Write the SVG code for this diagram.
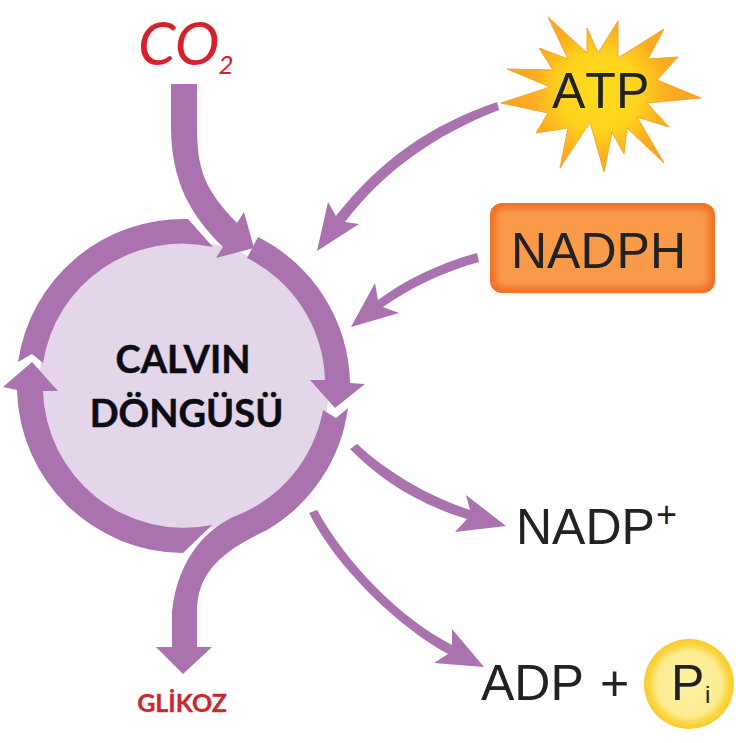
<svg xmlns="http://www.w3.org/2000/svg" width="736" height="743" viewBox="0 0 736 743">
<style>
.p{fill:#ab72b0}
.l{font-family:"Liberation Sans",Arial,sans-serif;font-size:50px;fill:#222}
.b{font-family:Lato,"Open Sans",sans-serif;font-weight:700;fill:#0c0c14;stroke:#0c0c14;stroke-width:.5px;font-size:38px;text-anchor:middle}
.c{font-family:Lato,"Open Sans",sans-serif;font-style:italic;fill:#d8202a}
</style>
<defs>
<radialGradient id="star" gradientUnits="userSpaceOnUse" cx="600" cy="92" r="95"><stop offset="0" stop-color="#ffdc1c"/><stop offset=".42" stop-color="#ffd21e"/><stop offset=".7" stop-color="#fbae20"/><stop offset="1" stop-color="#f8a124"/></radialGradient>
<radialGradient id="pi"><stop offset="0" stop-color="#fdf2a6"/><stop offset=".72" stop-color="#fdeb90"/><stop offset=".88" stop-color="#fbd640"/><stop offset="1" stop-color="#f9cb2c"/></radialGradient>
<filter id="glow" x="-10%" y="-10%" width="120%" height="120%"><feGaussianBlur stdDeviation="3"/></filter>
</defs>
<rect width="736" height="743" fill="#fff"/>
<g id="calvin">
<circle cx="184" cy="386" r="145" fill="#e4d6e9"/>
<text class="b" x="183" y="373">CALVIN</text>
<text class="b" x="186.500" y="427">DÖNGÜSÜ</text>
</g>
<g id="connectors">
<path id="ring-a" class="p" d="M18,362A167,167 0 0 1 188,219L213,247A141,141 0 0 0 43,363L32,354Z"/>
<path id="ring-b" class="p" d="M258,237A167,167 0 0 1 350,383L365,384L335,408L310,380L325,380A141,141 0 0 0 247,258Z"/>
<path id="ring-c" class="p" d="M348,408L336,418L323,410A141,141 0 0 1 233,517C210,528 178,555 172,612L172,647L156,647L183,674L212,647L197,647L197,612C197,570 225,550 267,530A167,167 0 0 0 348,408Z"/>
<path id="ring-d" class="p" d="M212,525A141,141 0 0 1 43,391L58,391L32,362L3,387L17,390A167,167 0 0 0 183,553Z"/>
<path id="co2-arrow" class="p" d="M171,84L197,84L197,127C197,170 205,190 237,223L244,212L254,248L216,258L223,247C190,215 171,180 171,127Z"/>
<path id="atp-arrow" class="p" d="M497,102C430,125 380,160 336,216L328,202L317,251L359,224L345,222C385,170 435,135 499,110Z"/>
<path id="nadph-arrow" class="p" d="M477,253C440,263 405,280 378,300L375,283L351,327L399,313L383,307C410,288 445,271 479,262Z"/>
<path id="nadp-arrow" class="p" d="M357,444C385,470 425,495 470,510L466,495L506,526L455,532L467,519C420,505 380,480 350,449Z"/>
<path id="adp-arrow" class="p" d="M317,510C345,560 395,615 452,645L452,629L484,667L434,663L448,654C395,625 335,565 309,513Z"/>
</g>
<g id="co2">
<text class="c" x="138" y="65" font-size="60">CO<tspan dx="-1" dy="9" font-size="26">2</tspan></text>
</g>
<g id="atp">
<polygon fill="url(#star)" stroke="#f9a626" stroke-width="1" points="548,17 587,53 587,28 598,53 618,21 618,58 664,29 648,59 678,57 657,80 701,98 647,103 669,127 637,117 664,163 627,128 624,154 612,132 604,172 590,122 560,168 568,128 536,133 548,113 501,103 550,87 507,69 553,70 539,48 568,59"/>
<text class="l" x="552" y="108" style="font-kerning:none">ATP</text>
</g>
<g id="nadph">
<rect x="490" y="203" width="225" height="90" rx="12" fill="#f17024"/>
<rect x="496" y="209" width="213" height="78" rx="8" fill="#f99a48" filter="url(#glow)"/>
<text class="l" x="511" y="268">NADPH</text>
</g>
<g id="nadp">
<text class="l" x="516" y="544">NADP</text>
<text class="l" x="656" y="527" style="font-size:36px">+</text>
</g>
<g id="adp">
<text class="l" x="481" y="700">ADP</text>
<text class="l" x="600" y="700">+</text>
</g>
<g id="pi-node">
<circle cx="689" cy="684" r="45" fill="url(#pi)"/>
<text class="l" x="671" y="700">P</text>
<text class="l" x="705" y="703" style="font-size:24px">i</text>
</g>
<g id="glikoz">
<text class="b" x="182" y="712" style="font-size:25px;fill:#c8282e;stroke:#c8282e;stroke-width:.3px">GLİKOZ</text>
</g>
</svg>
